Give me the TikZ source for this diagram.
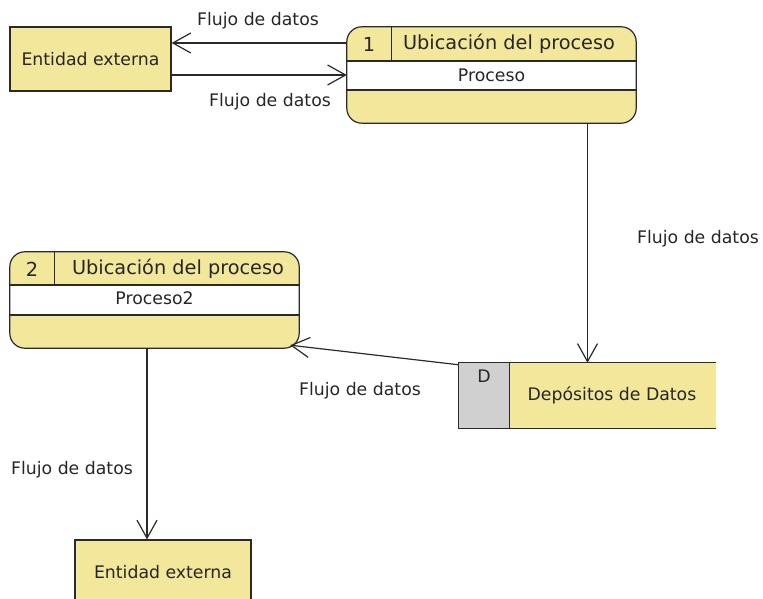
\documentclass[tikz,border=0pt]{standalone}
\usepackage{fontspec}
\setmainfont{DejaVu Sans}
\usetikzlibrary{arrows.meta}
\definecolor{dfdyellow}{HTML}{F3E79B}
\definecolor{dfdgray}{HTML}{D0D0D0}
\definecolor{dfdline}{HTML}{2A2A2A}
\tikzset{
  body/.style={font=\fontsize{17.3}{20}\selectfont, text=black!85},
  head/.style={font=\fontsize{19.3}{22}\selectfont, text=black!85},
  ent/.style={draw=dfdline, line width=1.2pt, fill=dfdyellow, body},
  procbox/.style={fill=dfdyellow, draw=none, rounded corners=15pt},
  flow/.style={draw=dfdline, line width=1.2pt, -{Straight Barb[length=18pt,width=20pt]}},
  lbl/.style={body, inner sep=0pt},
}
\begin{document}
\begin{tikzpicture}[x=1pt,y=-1pt]
\useasboundingbox (0,0) rectangle (763,599);
\clip (0,0) rectangle (763,599);

% external entity 1
\node[ent, minimum width=161pt, minimum height=64pt, inner sep=0pt] (e1) at (90.5,59) {Entidad externa};

% process 1
\node[procbox, minimum width=289pt, minimum height=96pt] (p1) at (491.5,75) {};
\fill[white] ([yshift=14pt]p1.west) rectangle ([yshift=-15pt]p1.east);
\draw[dfdline, line width=1.2pt] ([yshift=14pt]p1.west) -- ([yshift=14pt]p1.east);
\draw[dfdline, line width=1.2pt] ([yshift=-15pt]p1.west) -- ([yshift=-15pt]p1.east);
\draw[dfdline, line width=1.2pt] ([xshift=45pt]p1.north west) -- ([xshift=45pt,yshift=14pt]p1.west);
\draw[dfdline, line width=1.2pt, rounded corners=15pt] (p1.south west) rectangle (p1.north east);
\node[head] (p1n) at (369,44) {1};
\node[head] (p1t) at (509,44) {Ubicación del proceso};
\node[body] (p1p) at (491.5,75) {Proceso};

% process 2
\node[procbox, minimum width=289pt, minimum height=96pt] (p2) at (154.5,300) {};
\fill[white] ([yshift=15pt]p2.west) rectangle ([yshift=-15pt]p2.east);
\draw[dfdline, line width=1.2pt] ([yshift=15pt]p2.west) -- ([yshift=15pt]p2.east);
\draw[dfdline, line width=1.2pt] ([yshift=-15pt]p2.west) -- ([yshift=-15pt]p2.east);
\draw[dfdline, line width=1.2pt] ([xshift=45pt]p2.north west) -- ([xshift=45pt,yshift=15pt]p2.west);
\draw[dfdline, line width=1.2pt, rounded corners=15pt] (p2.south west) rectangle (p2.north east);
\node[head] (p2n) at (32,269) {2};
\node[head] (p2t) at (178,269) {Ubicación del proceso};
\node[body] (p2p) at (154.5,298) {Proceso2};

% data store
\node[fill=dfdyellow, minimum width=257pt, minimum height=65pt, inner sep=0pt] (ds) at (587.5,395.5) {};
\fill[dfdgray] (ds.north west) rectangle ([xshift=51pt]ds.south west);
\draw[dfdline, line width=1.2pt] (ds.north east) -- (ds.north west) -- (ds.south west) -- (ds.south east);
\draw[dfdline, line width=1.2pt] ([xshift=51pt]ds.north west) -- ([xshift=51pt]ds.south west);
\node[body] (dsd) at (484,376) {D};
\node[body] (dst) at (612,395) {Depósitos de Datos};

% external entity 2
\node[ent, minimum width=176pt, minimum height=64pt, inner sep=0pt] (e2) at (163,572) {Entidad externa};

% flows
\draw[flow] ([yshift=32pt]p1.west) -- ([yshift=16pt]e1.east);
\draw[flow] ([yshift=-16pt]e1.east) -- (p1.west);
\draw[flow] (p1.south -| ds.north) -- (ds.north);
\draw[flow] ([yshift=-2pt]ds.north west) -- ([xshift=-9pt,yshift=3pt]p2.south east);
\draw[flow] ([xshift=-7.5pt]p2.south) -- ([xshift=-7.5pt]p2.south |- e2.north);

% labels
\node[lbl] (l1) at (258,21) {Flujo de datos};
\node[lbl] (l2) at (270,102) {Flujo de datos};
\node[lbl] (l3) at (698,239) {Flujo de datos};
\node[lbl] (l4) at (360,391) {Flujo de datos};
\node[lbl] (l5) at (72,470) {Flujo de datos};
\end{tikzpicture}
\end{document}
